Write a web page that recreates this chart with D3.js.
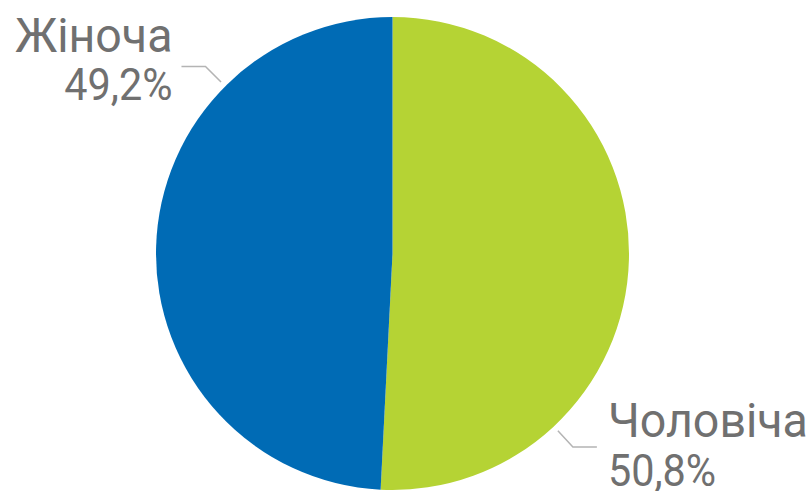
<!DOCTYPE html>
<html><head><meta charset="utf-8">
<script src="https://cdn.jsdelivr.net/npm/d3@7"></script>
<style>html,body{margin:0;padding:0;background:#fff;}</style>
</head><body>
<svg id="chart" width="811" height="491"></svg>
<script>
const categories = ["Чоловіча", "Жіноча"];
const values = [50.8, 49.2];
const valueLabels = ["50,8%", "49,2%"];
const colors = ["#b5d334", "#006bb5"];

const svg = d3.select("#chart");
const cx = 392.5, cy = 253.5, r = 236.5;
const g = svg.append("g").attr("transform", `translate(${cx},${cy})`);

const pie = d3.pie().sort(null).value(d => d)(values);
const arc = d3.arc().innerRadius(0).outerRadius(r);

g.selectAll("path.slice").data(pie).enter().append("path")
  .attr("class", "slice")
  .attr("d", arc)
  .attr("fill", (d, i) => colors[i]);

// leader lines and labels
const labelAngles = [137 * Math.PI / 180, 315 * Math.PI / 180];
const font = "Roboto, 'DejaVu Sans', sans-serif";
pie.forEach((d, i) => {
  const a = labelAngles[i];
  const p0 = [Math.sin(a) * (r + 6), -Math.cos(a) * (r + 6)];
  const p1 = [Math.sin(a) * (r + 28), -Math.cos(a) * (r + 28)];
  const side = Math.sin(a) > 0 ? 1 : -1;
  const p2 = [p1[0] + side * 24, p1[1]];
  g.append("polyline")
    .attr("points", [p0, p1, p2].map(p => p.join(",")).join(" "))
    .attr("fill", "none").attr("stroke", "#b4b4b4").attr("stroke-width", 1.5);
  const tx = p2[0] + side * (side > 0 ? 11 : 9);
  const anchor = side > 0 ? "start" : "end";
  let y1, y2;
  if (side > 0) { y1 = p2[1] - 10; y2 = p2[1] + 39; }
  else { y1 = p2[1] - 14.5; y2 = p2[1] + 34; }
  g.append("text")
    .attr("transform", `translate(${tx},${y1}) scale(0.97,1)`)
    .attr("text-anchor", anchor).attr("font-family", font).attr("font-size", 48)
    .attr("fill", "#707070").text(categories[i]);
  g.append("text")
    .attr("transform", `translate(${tx},${y2}) scale(0.92,1)`)
    .attr("text-anchor", anchor).attr("font-family", font).attr("font-size", 45)
    .attr("fill", "#707070").text(valueLabels[i]);
});
</script>
</body></html>
